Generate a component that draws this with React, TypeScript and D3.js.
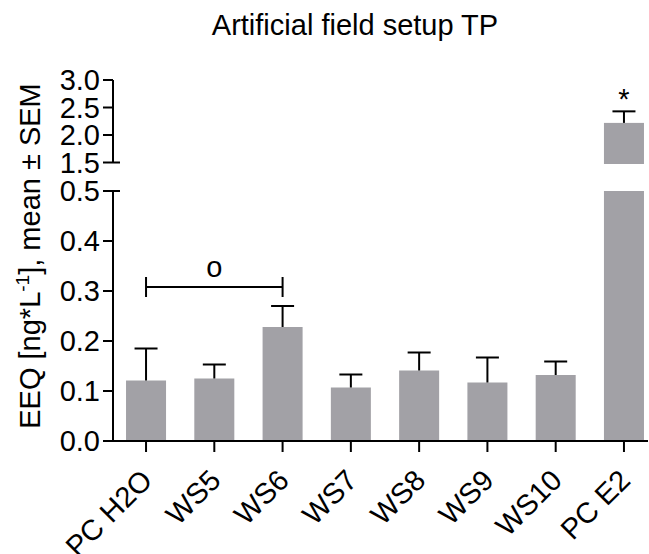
import React from "react";
import * as d3 from "d3";

const categories = ["PC H2O", "WS5", "WS6", "WS7", "WS8", "WS9", "WS10", "PC E2"];
const means = [0.121, 0.125, 0.228, 0.107, 0.141, 0.117, 0.132, 2.22];
const sems = [0.064, 0.028, 0.042, 0.026, 0.036, 0.05, 0.027, 0.21];
const lowerTicks = [0, 0.1, 0.2, 0.3, 0.4, 0.5];
const upperTicks = [1.5, 2.0, 2.5, 3.0];
const title = "Artificial field setup TP";
const bracket = { from: "PC H2O", to: "WS6", level: 0.308, label: "o" };
const star = { cat: "PC E2", label: "*" };

const W = 649;
const H = 554;
const FONT = "'Liberation Sans', Arial, Helvetica, sans-serif";
const FS = 29;
const BAR = "#a2a1a6";

export default function App() {
  const axisX = 113;
  const baseY = 441;
  const yLow = d3.scaleLinear().domain([0, 0.5]).range([baseY, 191]);
  const yUp = d3.scaleLinear().domain([1.5, 3.0]).range([162.5, 80]);
  const segments = [
    { min: 0, max: 0.5, s: yLow },
    { min: 1.5, max: 3.0, s: yUp },
  ];
  const x = d3
    .scaleBand<string>()
    .domain(categories)
    .range([111.9, 658.1])
    .paddingInner(0.414)
    .paddingOuter(0.207);
  const bw = x.bandwidth();
  const cx = (c: string) => (x(c) ?? 0) + bw / 2;
  const fmt = d3.format(".1f");
  const capW = 23;

  const bars: JSX.Element[] = [];
  categories.forEach((c, i) => {
    const m = means[i];
    segments.forEach((seg, k) => {
      if (m > seg.min) {
        const top = seg.s(Math.min(m, seg.max));
        const bottom = seg.s(seg.min) + (k === 1 ? 1.5 : 0);
        bars.push(
          <rect key={`b${i}-${k}`} x={x(c)} y={top} width={bw} height={bottom - top} fill={BAR} />
        );
      }
    });
    const e = m + sems[i];
    const seg = segments.find((sg) => m >= sg.min && m <= sg.max) || segments[0];
    const y0 = seg.s(m);
    const y1 = seg.s(e);
    bars.push(
      <g key={`e${i}`} stroke="#000" strokeWidth={2}>
        <line x1={cx(c)} x2={cx(c)} y1={y0} y2={y1} />
        <line x1={cx(c) - capW / 2} x2={cx(c) + capW / 2} y1={y1} y2={y1} />
      </g>
    );
  });

  const by = yLow(bracket.level);
  const bx1 = cx(bracket.from);
  const bx2 = cx(bracket.to);
  const si = categories.indexOf(star.cat);

  return (
    <svg
      width={W}
      height={H}
      style={{ position: "absolute", left: 0, top: 0, background: "#fff" }}
      fontFamily={FONT}
    >
      <rect x={0} y={0} width={W} height={H} fill="#fff" />
      <text x={355} y={35} fontSize={FS} textAnchor="middle" fill="#000">
        {title}
      </text>
      {bars}
      {/* y axis lower segment */}
      <g stroke="#000" strokeWidth={2}>
        <line x1={axisX} x2={axisX} y1={yLow(0.5)} y2={baseY + 1} />
        <line x1={axisX} x2={axisX} y1={yUp(3.0)} y2={yUp(1.5)} />
        {lowerTicks.map((t) => (
          <line key={`lt${t}`} x1={103} x2={t === 0.5 ? 120 : axisX} y1={yLow(t)} y2={yLow(t)} />
        ))}
        {upperTicks.map((t) => (
          <line key={`ut${t}`} x1={103} x2={t === 1.5 ? 120 : axisX} y1={yUp(t)} y2={yUp(t)} />
        ))}
        <line x1={103} x2={648} y1={baseY} y2={baseY} />
        {categories.map((c) => (
          <line key={`xt${c}`} x1={cx(c)} x2={cx(c)} y1={baseY} y2={baseY + 11} />
        ))}
      </g>
      <g fontSize={FS} textAnchor="end" fill="#000">
        {lowerTicks.map((t) => (
          <text key={`ll${t}`} x={100} y={yLow(t)} dy="0.35em">
            {fmt(t)}
          </text>
        ))}
        {upperTicks.map((t) => (
          <text key={`ul${t}`} x={100} y={yUp(t)} dy="0.35em">
            {fmt(t)}
          </text>
        ))}
        {categories.map((c) => (
          <text key={`xl${c}`} transform={`translate(${cx(c) + 8},${482}) rotate(-45)`}>
            {c}
          </text>
        ))}
      </g>
      <text transform={`translate(40,256) rotate(-90)`} fontSize={FS} textAnchor="middle" fill="#000">
        EEQ [ng*L
        <tspan fontSize={19} dy={-11}>
          -1
        </tspan>
        <tspan dy={11}>], mean ± SEM</tspan>
      </text>
      {/* significance bracket */}
      <g stroke="#000" strokeWidth={2}>
        <line x1={bx1} x2={bx2} y1={by} y2={by} />
        <line x1={bx1} x2={bx1} y1={by - 10} y2={by + 10} />
        <line x1={bx2} x2={bx2} y1={by - 10} y2={by + 10} />
      </g>
      <text x={(bx1 + bx2) / 2} y={by - 10.5} fontSize={FS} textAnchor="middle" fill="#000">
        {bracket.label}
      </text>
      <text
        x={cx(star.cat)}
        y={yUp(means[si] + sems[si]) - 2}
        fontSize={FS}
        textAnchor="middle"
        fill="#000"
      >
        {star.label}
      </text>
    </svg>
  );
}
